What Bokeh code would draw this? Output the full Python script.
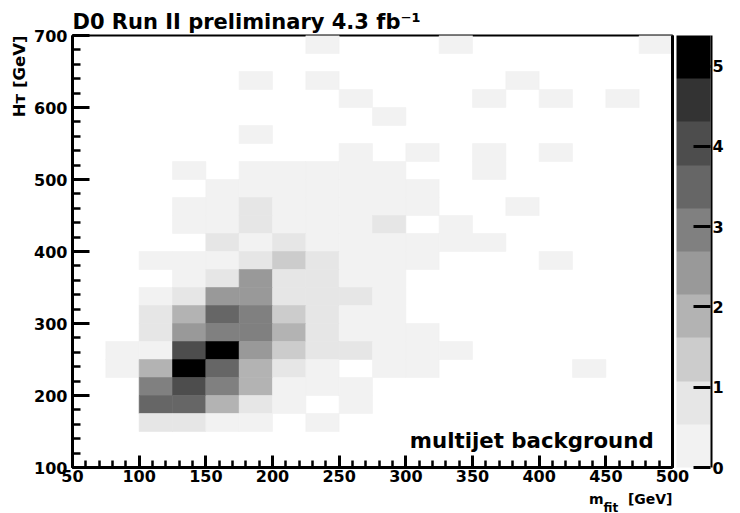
from bokeh.plotting import figure
from bokeh.models import (ColumnDataSource, LinearColorMapper, ColorBar, FixedTicker,
                          SingleIntervalTicker, Label, Title, LinearAxis)
from bokeh.embed import file_html
from bokeh.resources import INLINE

# ---- histogram binning (GeV) ----
M_BIN_LOW = [50, 75, 100, 125, 150, 175, 200, 225, 250, 275, 300, 325, 350, 375, 400, 425, 450, 475]
M_BIN_WIDTH = 25
HT_BIN_WIDTH = 25

# ---- multijet background yield per (m_fit, H_T) bin, one list per H_T bin ----
ht_675 = [0, 0, 0, 0, 0, 0, 0, .27, 0, 0, 0, .27, 0, 0, 0, 0, 0, .27]
ht_650 = [0, 0, 0, 0, 0, 0, 0, 0, 0, 0, 0, 0, 0, 0, 0, 0, 0, 0]
ht_625 = [0, 0, 0, 0, 0, .27, 0, .27, 0, 0, 0, 0, 0, .27, 0, 0, 0, 0]
ht_600 = [0, 0, 0, 0, 0, 0, 0, 0, .27, 0, 0, 0, .27, 0, .27, 0, .27, 0]
ht_575 = [0, 0, 0, 0, 0, 0, 0, 0, 0, .27, 0, 0, 0, 0, 0, 0, 0, 0]
ht_550 = [0, 0, 0, 0, 0, .27, 0, 0, 0, 0, 0, 0, 0, 0, 0, 0, 0, 0]
ht_525 = [0, 0, 0, 0, 0, 0, 0, 0, .27, 0, .27, 0, .27, 0, .27, 0, 0, 0]
ht_500 = [0, 0, 0, .27, 0, .27, .27, .31, .27, .27, 0, 0, .27, 0, 0, 0, 0, 0]
ht_475 = [0, 0, 0, 0, .27, .30, .27, .35, .27, .30, .27, 0, 0, 0, 0, 0, 0, 0]
ht_450 = [0, 0, 0, .27, .27, .62, .27, .40, .30, .27, .27, 0, 0, .27, 0, 0, 0, 0]
ht_425 = [0, 0, 0, .27, .30, .70, .27, .35, .27, .60, 0, .27, 0, 0, 0, 0, 0, 0]
ht_400 = [0, 0, 0, 0, .65, .35, .80, .30, .27, .27, .27, .27, .27, 0, 0, 0, 0, 0]
ht_375 = [0, 0, .27, .30, .35, .75, 1.30, .85, .40, .30, .27, 0, 0, 0, .27, 0, 0, 0]
ht_350 = [0, 0, 0, .30, .80, 2.40, .90, .70, .40, .27, 0, 0, 0, 0, 0, 0, 0, 0]
ht_325 = [0, 0, .27, .90, 2.50, 2.40, .85, .75, .60, .27, 0, 0, 0, 0, 0, 0, 0, 0]
ht_300 = [0, 0, .70, 1.90, 3.50, 3.00, 1.40, .80, .40, .27, 0, 0, 0, 0, 0, 0, 0, 0]
ht_275 = [0, 0, .75, 2.50, 2.95, 3.00, 1.85, .85, .45, .30, .27, 0, 0, 0, 0, 0, 0, 0]
ht_250 = [0, .35, .45, 4.10, 5.38, 2.45, 1.30, .70, .65, .40, .30, .27, 0, 0, 0, 0, 0, 0]
ht_225 = [0, .27, 1.95, 5.10, 3.50, 1.90, .75, .40, 0, .27, .27, 0, 0, 0, 0, .27, 0, 0]
ht_200 = [0, 0, 2.90, 4.00, 3.00, 1.85, .40, .35, .30, 0, 0, 0, 0, 0, 0, 0, 0, 0]
ht_175 = [0, 0, 3.45, 3.55, 1.90, .80, .30, 0, .27, 0, 0, 0, 0, 0, 0, 0, 0, 0]
ht_150 = [0, 0, .85, .75, .40, .35, 0, .27, 0, 0, 0, 0, 0, 0, 0, 0, 0, 0]
ht_125 = [0, 0, 0, 0, 0, 0, 0, 0, 0, 0, 0, 0, 0, 0, 0, 0, 0, 0]
ht_100 = [0, 0, 0, 0, 0, 0, 0, 0, 0, 0, 0, 0, 0, 0, 0, 0, 0, 0]

HT_ROWS = {
    675: ht_675, 650: ht_650, 625: ht_625, 600: ht_600, 575: ht_575, 550: ht_550,
    525: ht_525, 500: ht_500, 475: ht_475, 450: ht_450, 425: ht_425, 400: ht_400,
    375: ht_375, 350: ht_350, 325: ht_325, 300: ht_300, 275: ht_275, 250: ht_250,
    225: ht_225, 200: ht_200, 175: ht_175, 150: ht_150, 125: ht_125, 100: ht_100,
}

# colour scale: 10 grey levels from 0 to the histogram maximum
Z_MAX = 5.38
GREYS = ["#f2f2f2", "#e6e6e6", "#cccccc", "#b3b3b3", "#999999",
         "#808080", "#666666", "#4d4d4d", "#333333", "#000000"]
COLORBAR_TICKS = [0, 1, 2, 3, 4, 5]

NBSP = "\u00a0"
TITLE = "D0 Run II preliminary 4.3 fb\u207b\u00b9"
X_TITLE = "m" + NBSP * 5 + "[GeV]"
X_TITLE_SUB = "fit"
Y_TITLE = "H\u1d1b [GeV]"
LEGEND_TEXT = "multijet background"

FONT = "DejaVu Sans"

# ---- build the filled-cell table (empty bins are not drawn) ----
m_lo, m_hi, ht_lo, ht_hi, w = [], [], [], [], []
for ht, row in HT_ROWS.items():
    for m, val in zip(M_BIN_LOW, row):
        if val > 0:
            m_lo.append(m)
            m_hi.append(m + M_BIN_WIDTH)
            ht_lo.append(ht)
            ht_hi.append(ht + HT_BIN_WIDTH)
            w.append(val)
source = ColumnDataSource(dict(m_lo=m_lo, m_hi=m_hi, ht_lo=ht_lo, ht_hi=ht_hi, w=w))

X_RANGE = (50, 500)
Y_RANGE = (100, 700)

p = figure(frame_width=600, frame_height=432,
           x_range=X_RANGE, y_range=Y_RANGE,
           min_border_left=72, min_border_top=35,
           min_border_bottom=46, min_border_right=68,
           output_backend="svg", toolbar_location=None,
           background_fill_color="white", border_fill_color="white")

mapper = LinearColorMapper(palette=GREYS, low=0, high=Z_MAX)
p.quad(left="m_lo", right="m_hi", bottom="ht_lo", top="ht_hi", source=source,
       fill_color={"field": "w", "transform": mapper},
       line_color={"field": "w", "transform": mapper}, line_width=0.6)

p.xgrid.visible = False
p.ygrid.visible = False
p.outline_line_color = "black"
p.outline_line_width = 2

p.xaxis.ticker = SingleIntervalTicker(interval=50, num_minor_ticks=5)
p.yaxis.ticker = SingleIntervalTicker(interval=100, num_minor_ticks=5)
for ax in (p.xaxis[0], p.yaxis[0]):
    ax.axis_line_width = 3
    ax.axis_line_color = "black"
    ax.major_tick_line_width = 3
    ax.minor_tick_line_width = 2.5
    ax.major_tick_line_color = "black"
    ax.minor_tick_line_color = "black"
    ax.major_tick_out = 0
    ax.minor_tick_out = 0
    ax.major_label_text_font = FONT
    ax.major_label_text_font_style = "bold"
    ax.major_label_text_font_size = "16px"
    ax.major_label_text_color = "black"
p.xaxis.major_tick_in = 12
p.xaxis.minor_tick_in = 7
p.yaxis.major_tick_in = 17
p.yaxis.minor_tick_in = 8
p.xaxis.major_label_standoff = 2
p.yaxis.major_label_standoff = 5

# heavier right edge of the frame
right_edge = LinearAxis(ticker=FixedTicker(ticks=[]), axis_line_width=3,
                        axis_line_color="black", major_tick_line_color=None,
                        minor_tick_line_color=None, major_label_standoff=0,
                        major_label_text_font_size="0px")
p.add_layout(right_edge, "right")

color_bar = ColorBar(color_mapper=mapper, ticker=FixedTicker(ticks=COLORBAR_TICKS),
                     width=34, padding=0, margin=0, location=(4, 0),
                     major_tick_in=17, major_tick_out=0,
                     major_tick_line_color="black", major_tick_line_width=3,
                     major_label_text_font=FONT, major_label_text_font_style="bold",
                     major_label_text_font_size="16px", major_label_text_color="black",
                     label_standoff=2, bar_line_color=None, border_line_color=None,
                     background_fill_alpha=0)
p.add_layout(color_bar, "right")

# palette axis line along the right side of the colour scale
palette_axis = ColorBar(color_mapper=LinearColorMapper(palette=["#000000"], low=0, high=1),
                        ticker=FixedTicker(ticks=[]), width=2, padding=0, margin=0,
                        location=(-16, 0), major_tick_line_color=None,
                        minor_tick_line_color=None, major_label_text_font_size="0px",
                        bar_line_color=None, border_line_color=None,
                        background_fill_alpha=0)
p.add_layout(palette_axis, "right")

# plot title, left-aligned above the frame
p.title.text = TITLE
p.title.align = "left"
p.title.offset = 0
p.title.vertical_align = "bottom"
p.title.standoff = 4
p.title.text_font = FONT
p.title.text_font_style = "bold"
p.title.text_font_size = "21px"
p.title.text_color = "black"


def side_title(text, size, align, offset, valign, standoff):
    return Title(text=text, align=align, offset=offset, vertical_align=valign,
                 standoff=standoff, text_font=FONT, text_font_style="bold",
                 text_font_size=f"{size}px", text_color="black")


# x-axis title (m with subscript "fit"), right-aligned to the frame edge;
# a thin blank strip first keeps it clear of the tick labels
p.add_layout(side_title(NBSP, 1, "right", 0, "top", 1), "below")
p.add_layout(side_title(X_TITLE, 14, "right", 0, "bottom", 0), "below")
p.add_layout(side_title(X_TITLE_SUB, 12, "left", 531, "top", -12), "below")

# y-axis title, right-aligned to the frame top
p.add_layout(side_title(Y_TITLE, 16.5, "right", 0, "bottom", 5), "left")

# sample label inside the frame
p.add_layout(Label(x=303, y=137.5, text=LEGEND_TEXT, text_font=FONT,
                   text_font_style="bold", text_font_size="21.3px",
                   text_align="left", text_baseline="alphabetic", text_color="black"))

open("out.html", "w").write(file_html(p, INLINE))
